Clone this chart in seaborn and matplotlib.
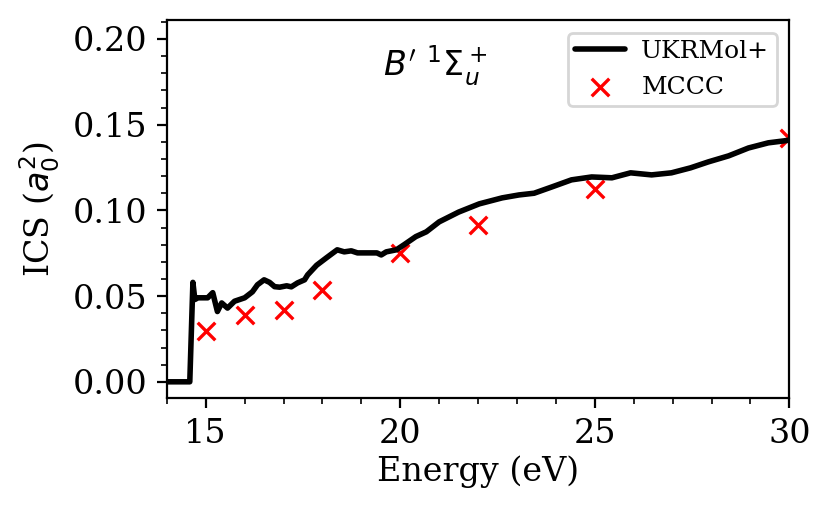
import numpy as np
import pandas as pd
import matplotlib
matplotlib.use("Agg")
import matplotlib.pyplot as plt
import seaborn as sns
from matplotlib.ticker import MultipleLocator

# UKRMol+ integral cross section
ukr_energy = [14.0, 14.59, 14.67, 14.72, 14.8, 15.05, 15.18, 15.3, 15.41, 15.56,
              15.74, 16.0, 16.2, 16.33, 16.5, 16.64, 16.77, 16.9, 17.08, 17.2,
              17.36, 17.54, 17.62, 17.85, 18.1, 18.26, 18.38, 18.56, 18.74, 18.9,
              19.13, 19.4, 19.51, 19.64, 19.9, 20.1, 20.4, 20.67, 21.0, 21.5,
              22.03, 22.62, 23.05, 23.44, 23.9, 24.4, 24.92, 25.44, 25.92, 26.46,
              26.97, 27.46, 27.92, 28.44, 28.95, 29.46, 29.85, 30.0]
ukr_ics = [0.0, 0.0, 0.058, 0.048, 0.049, 0.049, 0.052, 0.041, 0.046, 0.043,
           0.047, 0.049, 0.0525, 0.0566, 0.0595, 0.058, 0.0555, 0.0552, 0.056, 0.0554,
           0.0577, 0.0595, 0.0624, 0.068, 0.0723, 0.075, 0.077, 0.0758, 0.0764, 0.0752,
           0.0752, 0.0752, 0.074, 0.0758, 0.077, 0.080, 0.0847, 0.0875, 0.0933, 0.099,
           0.1038, 0.1073, 0.109, 0.110, 0.1137, 0.1178, 0.1195, 0.119, 0.1219, 0.1207,
           0.1219, 0.1248, 0.1283, 0.1318, 0.1364, 0.1394, 0.1405, 0.141]

# MCCC reference points
mccc_energy = [15, 16, 17, 18, 20, 22, 25, 30]
mccc_ics = [0.0295, 0.039, 0.042, 0.0535, 0.075, 0.0915, 0.1125, 0.1425]

ukr = pd.DataFrame({"energy": ukr_energy, "ics": ukr_ics})
mccc = pd.DataFrame({"energy": mccc_energy, "ics": mccc_ics})

sns.set_style("ticks", rc={"axes.edgecolor": "black", "xtick.color": "black",
                           "ytick.color": "black", "axes.linewidth": 1.0,
                           "text.color": "black", "axes.labelcolor": "black"})
plt.rcParams["font.family"] = ["DejaVu Serif"]
plt.rcParams["mathtext.fontset"] = "dejavusans"

fig, ax = plt.subplots(figsize=(4.15, 2.575), dpi=200)
fig.subplots_adjust(left=0.201, right=0.951, bottom=0.227, top=0.961)

sns.lineplot(data=ukr, x="energy", y="ics", color="black", linewidth=2.0,
             label="UKRMol+", ax=ax)
sns.scatterplot(data=mccc, x="energy", y="ics", color="red", marker="x",
                s=40, linewidth=1.2, label="MCCC", ax=ax)

ax.text(19.55, 0.178, r"$B'\ ^1\Sigma_u^+$", fontsize=12, ha="left", va="baseline")

ax.set_xlim(14, 30)
ax.set_ylim(-0.0095, 0.211)
ax.xaxis.set_major_locator(MultipleLocator(5))
ax.xaxis.set_minor_locator(MultipleLocator(1))
ax.yaxis.set_major_locator(MultipleLocator(0.05))
ax.yaxis.set_minor_locator(MultipleLocator(0.01))
ax.tick_params(axis="both", which="major", labelsize=12, length=3.5, width=0.8)
ax.tick_params(axis="both", which="minor", length=2, width=0.6)
ax.set_xlabel("Energy (eV)", fontsize=12, labelpad=2)
ax.set_ylabel(r"ICS ($a_0^2$)", fontsize=12)

for side in ["top", "right"]:
    ax.spines[side].set_visible(True)

ax.legend(loc="upper right", fontsize=9, borderpad=0.3, handletextpad=0.65)

fig.savefig("out.png", dpi=200)
